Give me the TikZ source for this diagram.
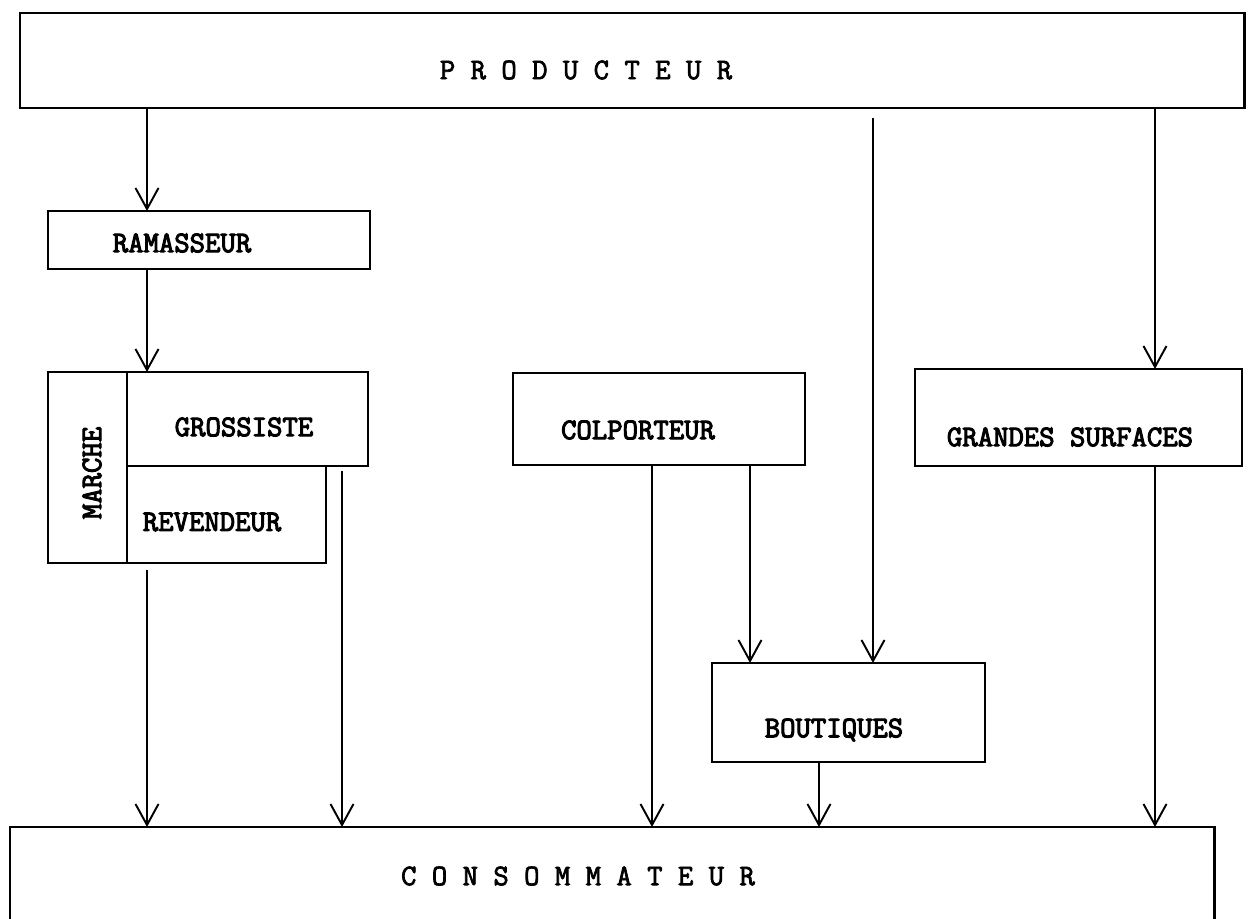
\documentclass[tikz,border=0pt]{standalone}
\usepackage{fontspec}
\newfontfamily\machine[FakeBold=3.5]{Latin Modern Mono}
\newfontfamily\machinetitre[FakeBold=2.5]{Latin Modern Mono}
\usepackage{tikz}
\usetikzlibrary{arrows.meta}

\tikzset{
	boite/.style={draw, line width=1.6pt, inner sep=0pt, outer sep=0pt, anchor=north west},
	etiq/.style={font=\machine\fontsize{17}{20}\selectfont, inner sep=0pt},
	titre/.style={font=\machinetitre\fontsize{17}{20}\selectfont, inner sep=0pt},
	fleche/.style={line width=1.1pt, -{Straight Barb[length=4.2mm, width=4.6mm, line width=1.1pt]}},
}

\begin{document}
\begin{tikzpicture}[x=0.02cm, y=-0.02cm]

	\clip (0,0) rectangle (1249,919);

	% les boites
	\node[boite, minimum width=24.5cm, minimum height=1.9cm]  (prod)   at (20,13)  {};
	\node[boite, minimum width=6.44cm, minimum height=1.16cm] (ram)    at (48,211) {};
	\node[boite, minimum width=1.58cm, minimum height=3.82cm] (marche) at (48,372) {};
	\node[boite, minimum width=4.82cm, minimum height=1.88cm] (gros)   at (127,372) {};
	\node[boite, minimum width=3.98cm, minimum height=1.94cm] (rev)    at (127,466) {};
	\node[boite, minimum width=5.84cm, minimum height=1.84cm] (colp)   at (513,373) {};
	\node[boite, minimum width=6.54cm, minimum height=1.94cm] (gds)    at (915,369) {};
	\node[boite, minimum width=5.46cm, minimum height=1.98cm] (bout)   at (712,663) {};
	\node[boite, minimum width=24.1cm, minimum height=2.4cm]  (cons)   at (10,827) {};

	% les textes
	\node[titre] (tprod)   at (586,70)  {P R O D U C T E U R};
	\node[etiq] (tram)    at (182,243) {RAMASSEUR};
	\node[etiq, rotate=90] (tmarche) at (92,473) {MARCHE};
	\node[etiq] (tgros)   at (244,427) {GROSSISTE};
	\node[etiq] (trev)    at (212,522) {REVENDEUR};
	\node[etiq] (tcolp)   at (638,430) {COLPORTEUR};
	\node[etiq] (tgds)    at (1070,437) {GRANDES SURFACES};
	\node[etiq] (tbout)   at (834,730) {BOUTIQUES};
	\node[titre] (tcons)   at (578,876) {C O N S O M M A T E U R};

	% abscisses des fleches
	\coordinate (xa) at (147,0);
	\coordinate (xb) at (342,0);
	\coordinate (xc) at (652,0);
	\coordinate (xd) at (750,0);
	\coordinate (xe) at (873,0);
	\coordinate (xf) at (819,0);
	\coordinate (xg) at (1155,0);

	\draw[fleche] (prod.south -| xa) -- (ram.north -| xa);
	\draw[fleche] (ram.south -| xa) -- (gros.north -| xa);
	\draw[fleche, shorten <=1.5mm] (rev.south -| xa) -- (cons.north -| xa);
	\draw[fleche, shorten <=1mm] (gros.south -| xb) -- (cons.north -| xb);
	\draw[fleche] (colp.south -| xc) -- (cons.north -| xc);
	\draw[fleche] (colp.south -| xd) -- (bout.north -| xd);
	\draw[fleche, shorten <=2mm] (prod.south -| xe) -- (bout.north -| xe);
	\draw[fleche] (bout.south -| xf) -- (cons.north -| xf);
	\draw[fleche] (prod.south -| xg) -- (gds.north -| xg);
	\draw[fleche] (gds.south -| xg) -- (cons.north -| xg);

\end{tikzpicture}
\end{document}
